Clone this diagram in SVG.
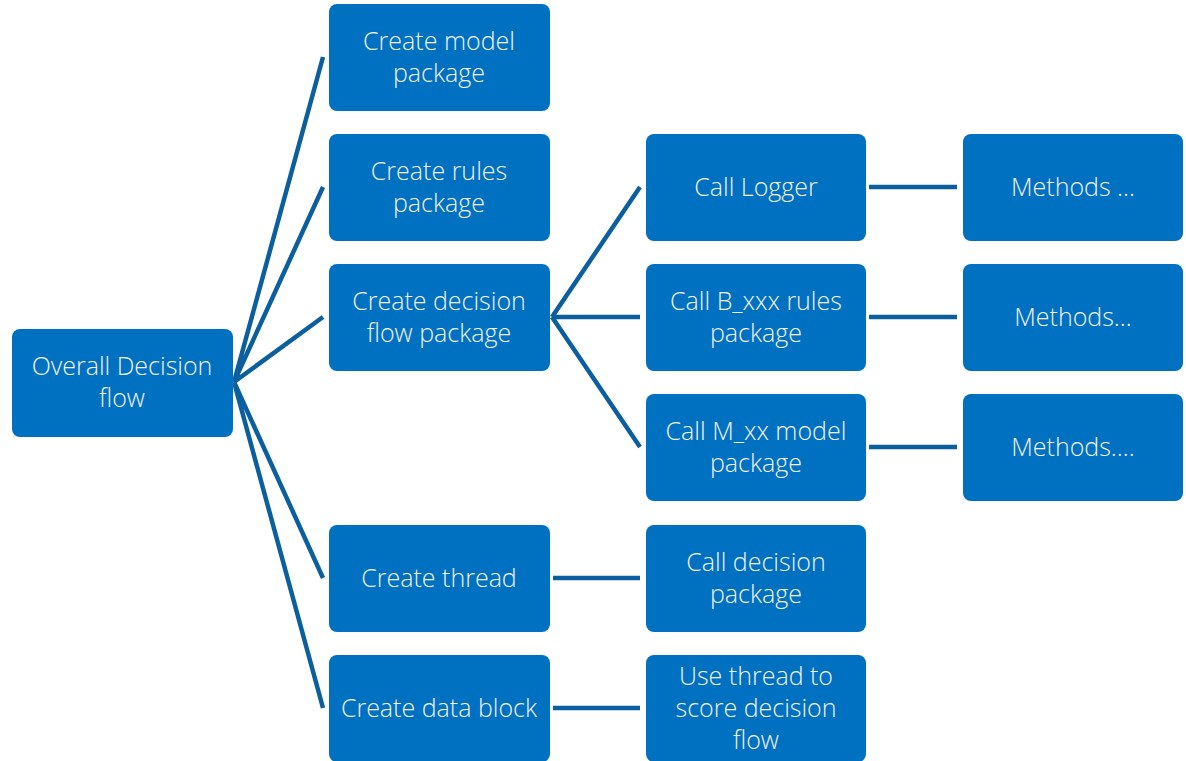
<svg xmlns="http://www.w3.org/2000/svg" width="1186" height="761" viewBox="0 0 1186 761">
<style>
.n{fill:#0070c0}
.t{fill:#f2f2f2;font-family:"Open Sans","Noto Sans","Liberation Sans",sans-serif;font-size:25px;font-weight:300;text-anchor:middle;dominant-baseline:central}
.c{stroke:#0b5f9f;stroke-width:4.5;fill:none}
</style>
<rect width="1186" height="761" fill="#ffffff"/>
<g id="connectors">
<path class="c" d="M234 382L323 57M234 382L323 187M234 382L323 317M234 382L323 578M234 382L323 708"/>
<path class="c" d="M552 317L640 187M552 317L640 317M552 317L640 447"/>
<path class="c" d="M869 187L957 187M869 317L957 317M869 447L957 447M553 578L640 578M553 708L640 708"/>
</g>
<g id="overall"><rect class="n" x="12" y="329" width="221" height="108" rx="8"/><text class="t" x="122" y="365">Overall Decision</text><text class="t" x="122" y="397">flow</text></g>
<g id="model"><rect class="n" x="329" y="4" width="221" height="107" rx="8"/><text class="t" x="439" y="40">Create model</text><text class="t" x="439" y="72">package</text></g>
<g id="rules"><rect class="n" x="329" y="134" width="221" height="107" rx="8"/><text class="t" x="439" y="170">Create rules</text><text class="t" x="439" y="202">package</text></g>
<g id="decision"><rect class="n" x="329" y="264" width="221" height="107" rx="8"/><text class="t" x="439" y="300">Create decision</text><text class="t" x="439" y="332">flow package</text></g>
<g id="thread"><rect class="n" x="329" y="525" width="221" height="107" rx="8"/><text class="t" x="439" y="577">Create thread</text></g>
<g id="datablock"><rect class="n" x="329" y="655" width="221" height="107" rx="8"/><text class="t" x="439" y="707">Create data block</text></g>
<g id="logger"><rect class="n" x="646" y="134" width="220" height="107" rx="8"/><text class="t" x="756" y="186">Call Logger</text></g>
<g id="bxxx"><rect class="n" x="646" y="264" width="220" height="107" rx="8"/><text class="t" x="756" y="300">Call B_xxx rules</text><text class="t" x="756" y="332">package</text></g>
<g id="mxx"><rect class="n" x="646" y="394" width="220" height="107" rx="8"/><text class="t" x="756" y="430">Call M_xx model</text><text class="t" x="756" y="462">package</text></g>
<g id="calldecision"><rect class="n" x="646" y="525" width="220" height="107" rx="8"/><text class="t" x="756" y="561">Call decision</text><text class="t" x="756" y="593">package</text></g>
<g id="usethread"><rect class="n" x="646" y="655" width="220" height="107" rx="8"/><text class="t" x="756" y="675">Use thread to</text><text class="t" x="756" y="707">score decision</text><text class="t" x="756" y="739">flow</text></g>
<g id="methods1"><rect class="n" x="963" y="134" width="220" height="107" rx="8"/><text class="t" x="1073" y="186">Methods …</text></g>
<g id="methods2"><rect class="n" x="963" y="264" width="220" height="107" rx="8"/><text class="t" x="1073" y="316">Methods…</text></g>
<g id="methods3"><rect class="n" x="963" y="394" width="220" height="107" rx="8"/><text class="t" x="1073" y="446">Methods….</text></g>
</svg>
